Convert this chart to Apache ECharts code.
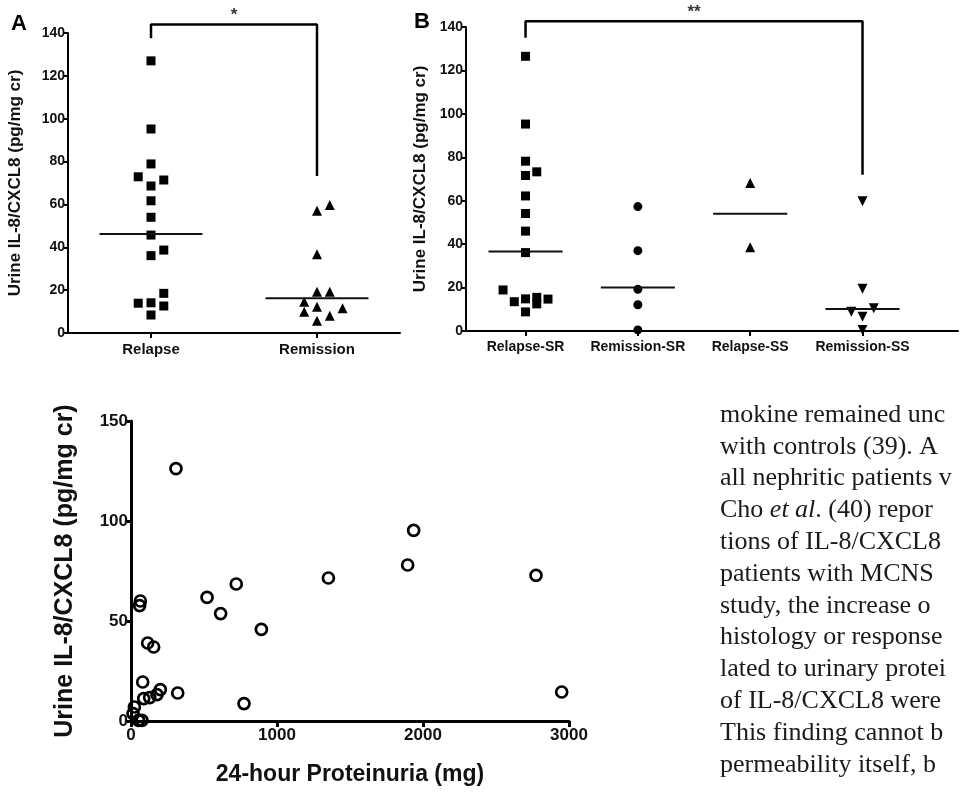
<!DOCTYPE html>
<html>
<head>
<meta charset="utf-8">
<script src="https://cdn.jsdelivr.net/npm/echarts@6/dist/echarts.min.js"></script>
<style>
  html, body { margin: 0; padding: 0; background: #fff; }
  #chart { width: 960px; height: 792px; }
</style>
</head>
<body>
<div id="chart"></div>
<script>
// ---- data ----
var yTitle = 'Urine IL-8/CXCL8 (pg/mg cr)';

// panel A
var groupsA = ['Relapse', 'Remission'];
var relapseA = [127, 95.2, 78.9, 72.9, 71.4, 68.6, 61.7, 54, 45.7, 38.7, 36.1, 18.5, 13.9, 14.1, 12.6, 8.4];
var relapseASlot = [0, 0, 0, -1, 1, 0, 0, 0, 0, 1, 0, 1, -1, 0, 1, 0];
var remissionA = [59.7, 57.1, 36.7, 19.3, 19.3, 14.6, 12.3, 11.5, 9.9, 8.1, 5.7];
var remissionASlot = [1, 0, 0, 0, 1, -1, 0, 2, -1, 1, 0];
var mediansA = [46.2, 16.2];
var bracketA = [137.5, 144, 144, 73.3];

// panel B
var groupsB = ['Relapse-SR', 'Remission-SR', 'Relapse-SS', 'Remission-SS'];
var relapseSR = [126.5, 95.3, 78.2, 73.3, 71.6, 62.2, 54.1, 46, 36.1, 18.9, 13.5, 14.8, 15.5, 12.5, 14.7, 8.8];
var relapseSRSlot = [0, 0, 0, 1, 0, 0, 0, 0, 0, -2, -1, 0, 1, 1, 2, 0];
var remissionSR = [57.3, 37, 19.2, 12.1, 0.5];
var relapseSS = [68.2, 38.6];
var remissionSS = [59.8, 19.5, 10.5, 8.9, 6.6, 0.5];
var remissionSSSlot = [0, 0, 1, -1, 0, 0];
var mediansB = [36.6, 20, 54, 10.1];
var bracketB = [135, 142.6, 142.6, 72];

// panel C
var proteinuria = [308, 1936, 1895, 2774, 1352, 721, 521, 614, 893, 64, 59, 114, 155, 80, 320, 774, 2950, 201, 178, 128, 87, 23, 14, 52, 75];
var il8 = [126.2, 95.3, 78, 72.8, 71.5, 68.5, 61.8, 53.7, 45.8, 60, 57.7, 39, 37, 19.5, 14, 8.7, 14.5, 15.7, 13.2, 11.7, 11.2, 7, 3.7, 0.3, 0.3];

// text on the right of panel C
var bodyLines = [
  'mokine remained unc',
  'with controls (39). A',
  'all nephritic patients v',
  'Cho {i|et al}. (40) repor',
  'tions of IL-8/CXCL8',
  'patients with MCNS',
  'study, the increase o',
  'histology or response',
  'lated to urinary protei',
  'of IL-8/CXCL8 were',
  'This finding cannot b',
  'permeability itself, b'
];

// ---- drawing ----
var ink = '#000';
var sans = '"Liberation Sans", Arial, sans-serif';
var serif = '"Liberation Serif", "Times New Roman", serif';
var chart = echarts.init(document.getElementById('chart'));

function pts(vals, slots, cat, step) {
  return vals.map(function (v, i) {
    return [cat + (slots ? slots[i] : 0) * step, v];
  });
}

function yAx(grid, max, interval, fs, lw, nameSize, nameGap) {
  return {
    type: 'value', gridIndex: grid, min: 0, max: max, interval: interval,
    name: yTitle, nameLocation: 'middle', nameGap: nameGap,
    nameTextStyle: { fontSize: nameSize, fontWeight: 'bold', color: '#111', fontFamily: sans },
    axisLine: { show: true, lineStyle: { color: ink, width: lw } },
    axisTick: { show: true, length: 5, lineStyle: { color: ink, width: lw } },
    axisLabel: { fontSize: fs, fontWeight: 'bold', color: '#111', margin: 3, fontFamily: sans },
    splitLine: { show: false }
  };
}

function catAx(grid, min, max, names, fs) {
  var vals = names.map(function (n, i) { return i + 1; });
  return {
    type: 'value', gridIndex: grid, min: min, max: max,
    axisLine: { show: true, onZero: false, lineStyle: { color: ink, width: 2 } },
    axisTick: { show: true, length: 5, customValues: vals, lineStyle: { color: ink, width: 2 } },
    axisLabel: {
      customValues: vals, fontSize: fs, fontWeight: 'bold', color: '#111', margin: 9, fontFamily: sans,
      formatter: function (v) { return names[Math.round(v) - 1]; }
    },
    splitLine: { show: false }
  };
}

function medianSeries(ax, meds, hw) {
  return meds.map(function (m, i) {
    return {
      type: 'line', xAxisIndex: ax, yAxisIndex: ax, symbol: 'none', silent: true,
      lineStyle: { color: '#111', width: 2 },
      data: [[i + 1 - hw, m], [i + 1 + hw, m]]
    };
  });
}

function bracket(ax, from, to, ys, stars) {
  return [{
    type: 'line', xAxisIndex: ax, yAxisIndex: ax, symbol: 'none', clip: false, silent: true,
    lineStyle: { color: ink, width: 2.5 },
    data: [[from, ys[0]], [from, ys[1]], [to, ys[2]], [to, ys[3]]]
  }, {
    type: 'scatter', xAxisIndex: ax, yAxisIndex: ax, symbolSize: 0, clip: false, silent: true,
    label: { show: true, position: 'top', distance: 1, formatter: stars, color: ink, fontSize: 17, fontWeight: 'bold', fontFamily: sans },
    data: [[(from + to) / 2, ys[1]]]
  }];
}

function dots(ax, symbol, size, data, rotate) {
  return {
    type: 'scatter', xAxisIndex: ax, yAxisIndex: ax, symbol: symbol, symbolSize: size,
    symbolRotate: rotate || 0, itemStyle: { color: ink, opacity: 1 }, data: data
  };
}

var stepA = 0.077, stepB = 0.1;
var series = [
  dots(0, 'rect', 9, pts(relapseA, relapseASlot, 1, stepA)),
  dots(0, 'triangle', 10, pts(remissionA, remissionASlot, 2, stepA)),
  dots(1, 'rect', 9, pts(relapseSR, relapseSRSlot, 1, stepB)),
  dots(1, 'circle', 9, pts(remissionSR, null, 2, stepB)),
  dots(1, 'triangle', 10, pts(relapseSS, null, 3, stepB)),
  dots(1, 'triangle', 10, pts(remissionSS, remissionSSSlot, 4, stepB), 180),
  {
    type: 'scatter', xAxisIndex: 2, yAxisIndex: 2, symbol: 'circle', symbolSize: 11,
    itemStyle: { color: 'rgba(0,0,0,0)', borderColor: ink, borderWidth: 2.7, opacity: 1 },
    data: proteinuria.map(function (p, i) { return [p, il8[i]]; })
  }
]
  .concat(medianSeries(0, mediansA, 0.31))
  .concat(medianSeries(1, mediansB, 0.33))
  .concat(bracket(0, 1, 2, bracketA, '*'))
  .concat(bracket(1, 1, 4, bracketB, '**'));

var graphics = [
  { type: 'text', left: 11, top: 13, style: { text: 'A', fontSize: 22, fontWeight: 'bold', fill: ink, fontFamily: sans } },
  { type: 'text', left: 414, top: 11, style: { text: 'B', fontSize: 22, fontWeight: 'bold', fill: ink, fontFamily: sans } }
];
bodyLines.forEach(function (line, i) {
  graphics.push({
    type: 'text', left: 720, top: 402 + i * 31.8,
    style: {
      text: line, fontSize: 26, fill: '#1a1a1a', fontFamily: serif,
      rich: { i: { fontSize: 26, fontStyle: 'italic', fill: '#1a1a1a', fontFamily: serif } }
    }
  });
});

chart.setOption({
  animation: false,
  backgroundColor: '#fff',
  grid: [
    { left: 68, top: 33, width: 332, height: 300 },
    { left: 466, top: 27, width: 492, height: 304 },
    { left: 131, top: 421, width: 438, height: 300 }
  ],
  xAxis: [
    catAx(0, 0.5, 2.5, groupsA, 15),
    catAx(1, 0.47, 4.85, groupsB, 14),
    {
      type: 'value', gridIndex: 2, min: 0, max: 3000, interval: 1000,
      name: '24-hour Proteinuria (mg)', nameLocation: 'middle', nameGap: 42,
      nameTextStyle: { fontSize: 23, fontWeight: 'bold', color: '#111', fontFamily: sans },
      axisLine: { show: true, onZero: false, lineStyle: { color: ink, width: 3 } },
      axisTick: { show: true, length: 6, lineStyle: { color: ink, width: 3 } },
      axisLabel: {
        fontSize: 17, fontWeight: 'bold', color: '#111', margin: 6, fontFamily: sans,
        formatter: function (v) { return String(v); }
      },
      splitLine: { show: false }
    }
  ],
  yAxis: [
    yAx(0, 140, 20, 14, 2, 17, 44),
    yAx(1, 140, 20, 14, 2, 17, 34),
    yAx(2, 150, 50, 17, 3, 25, 53)
  ],
  series: series,
  graphic: graphics
});
</script>
</body>
</html>
